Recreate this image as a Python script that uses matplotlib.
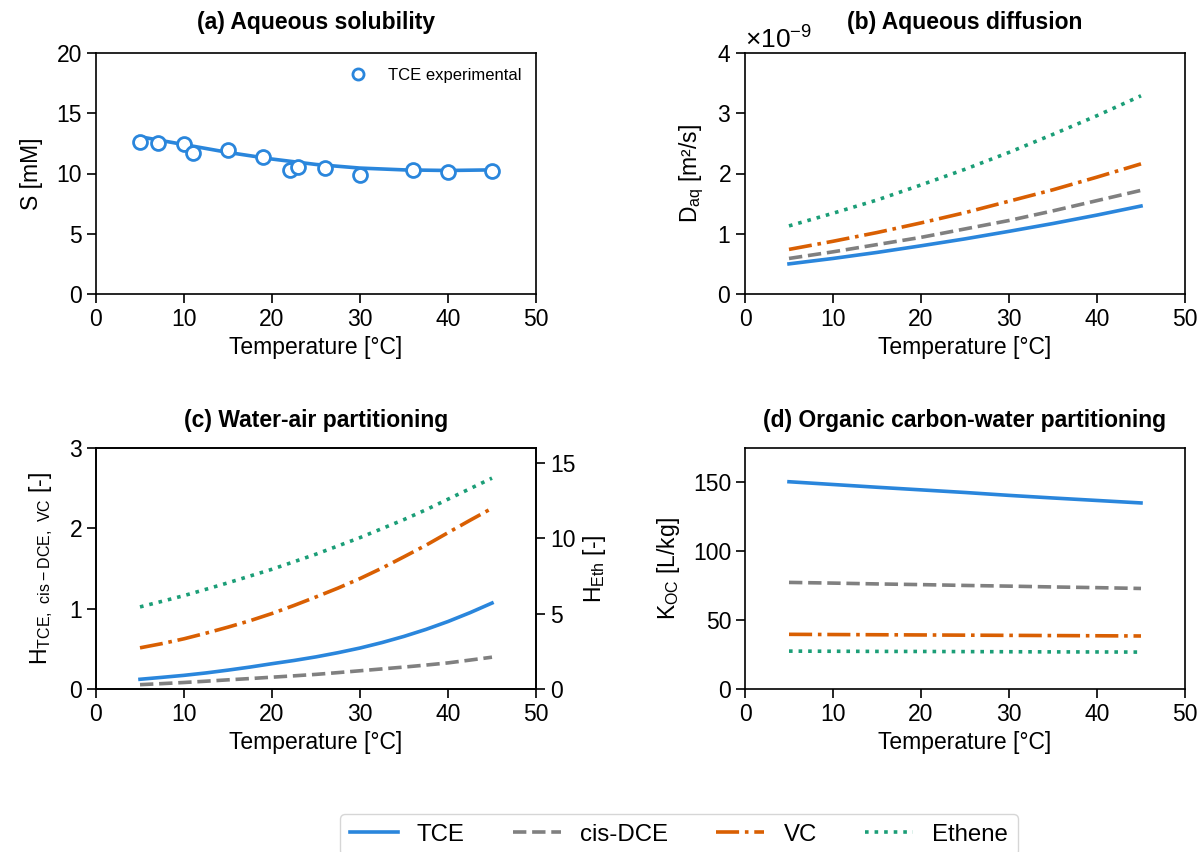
import matplotlib
matplotlib.use("Agg")
import matplotlib.pyplot as plt
import numpy as np

plt.rcParams['font.family'] = ['Liberation Sans', 'DejaVu Sans']
plt.rcParams['font.size'] = 16.5
plt.rcParams['mathtext.default'] = 'regular'

# temperature grid for model curves [°C]
temp = [5, 10, 15, 20, 25, 30, 35, 40, 45]
temp_fine = [5, 7.5, 10, 12.5, 15, 17.5, 20, 22.5, 25, 27.5, 30, 32.5, 35, 37.5, 40, 42.5, 45]

# (a) solubility, TCE experimental points + fitted curve [mM]
exp_temp = [5, 7, 10, 11, 15, 19, 22, 23, 26, 30, 36, 40, 45]
exp_sol = [12.65, 12.5, 12.45, 11.7, 11.95, 11.35, 10.25, 10.5, 10.45, 9.9, 10.25, 10.15, 10.2]
sol_fit = [13.05, 12.4, 11.75, 11.2, 10.75, 10.45, 10.3, 10.25, 10.3]

# (b) aqueous diffusion [1e-9 m2/s]
d_tce = [0.50, 0.59, 0.69, 0.80, 0.915, 1.04, 1.17, 1.31, 1.46]
d_dce = [0.59, 0.70, 0.82, 0.94, 1.08, 1.22, 1.38, 1.55, 1.72]
d_vc = [0.74, 0.875, 1.02, 1.18, 1.35, 1.54, 1.73, 1.94, 2.16]
d_eth = [1.13, 1.34, 1.56, 1.81, 2.07, 2.35, 2.65, 2.96, 3.29]

# (c) dimensionless Henry constants (on temp_fine)
h_tce = [0.121, 0.145, 0.17, 0.2, 0.235, 0.273, 0.315, 0.355, 0.40,
         0.452, 0.51, 0.578, 0.655, 0.742, 0.84, 0.95, 1.07]
h_dce = [0.054, 0.067, 0.081, 0.097, 0.114, 0.13, 0.147, 0.164, 0.182,
         0.204, 0.227, 0.25, 0.273, 0.298, 0.325, 0.36, 0.396]
h_vc = [0.5125, 0.565, 0.625, 0.695, 0.77, 0.85, 0.94, 1.04, 1.146,
        1.256, 1.375, 1.505, 1.646, 1.79, 1.946, 2.1, 2.25]
h_eth = [5.45, 5.82, 6.2, 6.62, 7.05, 7.5, 7.95, 8.45, 8.95,
         9.5, 10.05, 10.65, 11.25, 11.9, 12.6, 13.3, 14.0]

# (d) Koc [L/kg]
koc_tce = [150.5, 148.5, 146.5, 144.6, 142.7, 140.6, 138.7, 136.9, 135.1]
koc_dce = [77.4, 76.9, 76.3, 75.8, 75.2, 74.7, 74.1, 73.6, 73.0]
koc_vc = [39.7, 39.55, 39.4, 39.25, 39.1, 38.95, 38.8, 38.65, 38.5]
koc_eth = [27.5, 27.4, 27.3, 27.25, 27.15, 27.05, 26.95, 26.9, 26.8]

c_tce = '#2A86DC'
c_dce = '#808080'
c_vc = '#D95F02'
c_eth = '#1B9E77'
lw = 2.6

fig = plt.figure(figsize=(12.02, 8.52), dpi=100)
w, h = 440 / 1202, 241 / 852
ax_a = fig.add_axes([96 / 1202, 1 - 294 / 852, w, h])
ax_b = fig.add_axes([745 / 1202, 1 - 294 / 852, w, h])
ax_c = fig.add_axes([96 / 1202, 1 - 689 / 852, w, h])
ax_d = fig.add_axes([745 / 1202, 1 - 689 / 852, w, h])

# (a)
ax_a.plot(temp, sol_fit, color=c_tce, lw=lw)
ax_a.plot(exp_temp, exp_sol, 'o', mfc='white', mec=c_tce, mew=2, ms=10,
          label='TCE experimental')
ax_a.set_ylim(0, 20)
ax_a.set_yticks([0, 5, 10, 15, 20])
ax_a.set_ylabel('S [mM]', labelpad=10)
ax_a.set_title('(a) Aqueous solubility', fontweight='bold', fontsize=16.5, pad=17)
ax_a.legend(loc='upper right', frameon=False, fontsize=12, markerscale=0.8)

# (b)
ax_b.plot(temp, np.array(d_tce) * 1e-9, color=c_tce, lw=lw, ls='-')
ax_b.plot(temp, np.array(d_dce) * 1e-9, color=c_dce, lw=lw, ls='--')
ax_b.plot(temp, np.array(d_vc) * 1e-9, color=c_vc, lw=lw, ls='-.')
ax_b.plot(temp, np.array(d_eth) * 1e-9, color=c_eth, lw=lw, ls=':')
ax_b.set_ylim(0, 4e-9)
ax_b.ticklabel_format(axis='y', style='sci', scilimits=(0, 0), useMathText=True)
ax_b.set_ylabel('$D_{aq}$ [m²/s]', labelpad=8)
ax_b.set_title('(b) Aqueous diffusion', fontweight='bold', fontsize=16.5, pad=17)

# (c)
ax_c.plot(temp_fine, h_tce, color=c_tce, lw=lw, ls='-')
ax_c.plot(temp_fine, h_dce, color=c_dce, lw=lw, ls='--')
ax_c.plot(temp_fine, h_vc, color=c_vc, lw=lw, ls='-.')
ax_c.set_ylim(0, 3)
ax_c.set_yticks([0, 1, 2, 3])
ax_c.set_ylabel('$H_{TCE,\\ cis-DCE,\\ VC}$ [-]', labelpad=10)
ax_c.set_title('(c) Water-air partitioning', fontweight='bold', fontsize=16.5, pad=15)
ax_c2 = ax_c.twinx()
ax_c2.plot(temp_fine, h_eth, color=c_eth, lw=lw, ls=':')
ax_c2.set_ylim(0, 16)
ax_c2.set_yticks([0, 5, 10, 15])
ax_c2.set_ylabel('$H_{Eth}$ [-]')

# (d)
ax_d.plot(temp, koc_tce, color=c_tce, lw=lw, ls='-', label='TCE')
ax_d.plot(temp, koc_dce, color=c_dce, lw=lw, ls='--', label='cis-DCE')
ax_d.plot(temp, koc_vc, color=c_vc, lw=lw, ls='-.', label='VC')
ax_d.plot(temp, koc_eth, color=c_eth, lw=lw, ls=':', label='Ethene')
ax_d.set_ylim(0, 175)
ax_d.set_yticks([0, 50, 100, 150])
ax_d.set_ylabel('$K_{OC}$ [L/kg]', labelpad=8)
ax_d.set_title('(d) Organic carbon-water partitioning', fontweight='bold',
               fontsize=16.5, pad=15)

for ax in [ax_a, ax_b, ax_c, ax_d]:
    ax.set_xlim(0, 50)
    ax.set_xticks([0, 10, 20, 30, 40, 50])
    ax.set_xlabel('Temperature [°C]')
for ax in [ax_a, ax_b, ax_c, ax_c2, ax_d]:
    ax.tick_params(length=6.5, width=1.2)
    for s in ax.spines.values():
        s.set_linewidth(1.2)

# bigger exponent label, as in the original
ax_b.yaxis.get_offset_text().set_fontsize(19)

handles, labels = ax_d.get_legend_handles_labels()
fig.legend(handles, labels, loc='upper left', ncol=4, fontsize=17.3,
           bbox_to_anchor=(340 / 1202, 1 - 814 / 852), borderaxespad=0,
           columnspacing=2.0)

fig.savefig('out.png', dpi=100)
